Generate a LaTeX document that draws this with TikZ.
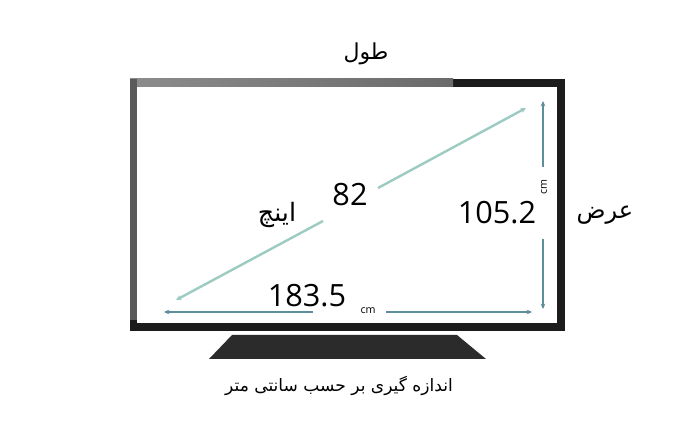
\documentclass[tikz,border=0pt]{standalone}
\usepackage{fontspec}
\setmainfont{Open Sans}
\newfontfamily\farsi[Script=Arabic]{DejaVu Sans}
\TeXXeTstate=1
\usetikzlibrary{arrows.meta}
\definecolor{framedark}{HTML}{1C1C1C}
\definecolor{framegray}{HTML}{5A5A5A}
\definecolor{standdark}{HTML}{2B2B2B}
\definecolor{diagteal}{HTML}{9CCBC1}
\definecolor{dimblue}{HTML}{5E8E9C}

\begin{document}
\begin{tikzpicture}[x=0.75pt,y=-0.75pt,
    dim/.style={draw=dimblue,line width=1.3pt,-{Stealth[length=4pt,width=3.5pt]}},
    diag/.style={draw=diagteal,line width=1.8pt,-{Stealth[length=4pt,width=4pt]}},
    num/.style={inner sep=0pt,font=\fontsize{23}{26}\selectfont},
    unit/.style={inner sep=0pt,font=\fontsize{8}{9}\selectfont},
    fa/.style={inner sep=0pt,font=\farsi\fontsize{16.5}{20}\selectfont}]
      \useasboundingbox[fill=white] (0,0) rectangle (696,434);

      % frame and screen
      \fill[framedark] (130,79) rectangle (565,331);
      \fill[left color=framegray!70,right color=framegray!90] (130,79) rectangle (453,87);
      \fill[framegray] (130,79) rectangle (137,320);
      \fill[white] (137,87) rectangle (557,323);

      % stand
      \fill[standdark] (232,335) -- (457,335) -- (486,359) -- (209,359) -- cycle;

      % labels
      \node[num] (diagval) at (350,195) {82};
      \node[num] (widthval) at (307,296) {183.5};
      \node[num] (heightval) at (497,213) {105.2};
      \node[unit] (wunit) at (368,311) {cm};
      \node[unit,rotate=90] (hunit) at (544,187) {cm};
      \node[fa,font=\farsi\fontsize{19}{22}\selectfont] (inch) at (277,215) {\beginR اینچ\endR};
      \node[fa] (length) at (366,54) {\beginR طول\endR};
      \node[fa,font=\farsi\fontsize{18}{22}\selectfont] (breadth) at (605,215) {\beginR عرض\endR};
      \node[fa,font=\farsi\fontsize{12.8}{15}\selectfont] (caption) at (339,386)
        {\beginR اندازه گیری بر حسب سانتی متر\endR};

      % ends of the dimension lines
      \coordinate (dlo) at (176,300);
      \coordinate (dgapl) at (323,221);
      \coordinate (dgapr) at (378,188);
      \coordinate (dhi) at (526,108);
      \coordinate (wl) at (164,312);
      \coordinate (wgapl) at (313,312);
      \coordinate (wgapr) at (386,312);
      \coordinate (wr) at (532,312);
      \coordinate (ht) at (543,101);
      \coordinate (hgapt) at (543,167);
      \coordinate (hgapb) at (543,239);
      \coordinate (hb) at (543,309);

      \path[diag] (dgapl) -- (dlo);
      \path[diag] (dgapr) -- (dhi);
      \path[dim] (wgapl) -- (wl);
      \path[dim] (wgapr) -- (wr);
      \path[dim] (hgapt) -- (ht);
      \path[dim] (hgapb) -- (hb);
\end{tikzpicture}
\end{document}
